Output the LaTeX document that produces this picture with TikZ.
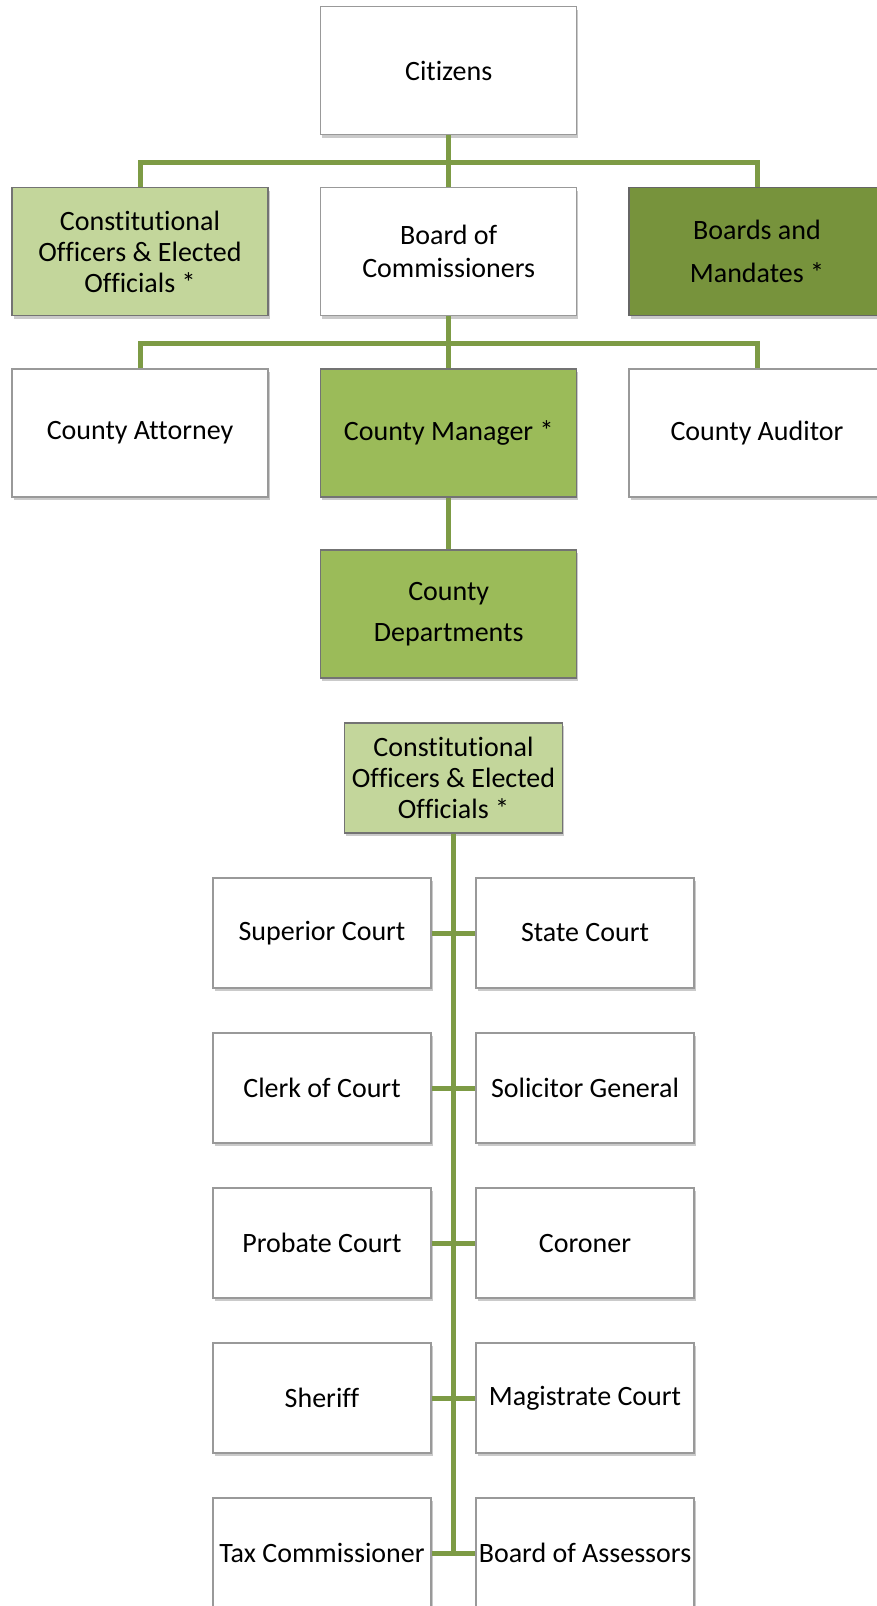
\documentclass[tikz,border=0pt]{standalone}
\usepackage{fontspec}
\setmainfont{Carlito}[Ligatures=NoCommon]
\usetikzlibrary{shadows}

\definecolor{paleolive}{HTML}{C3D69B}
\definecolor{midolive}{HTML}{9BBB59}
\definecolor{darkolive}{HTML}{77933C}
\definecolor{linkolive}{HTML}{7D9B45}

\tikzset{
	orgbox/.style={draw=black!40, line width=1.2pt, fill=white, align=center,
		minimum width=256pt, minimum height=128pt, inner sep=2pt,
		font=\fontsize{28}{31}\selectfont,
		drop shadow={shadow xshift=1.5pt, shadow yshift=-3pt, opacity=0.35, fill=black!60}},
	smallbox/.style={orgbox, minimum width=218pt, minimum height=110pt},
	palebox/.style={fill=paleolive, draw=black!55},
	midbox/.style={fill=midolive, draw=black!55},
	darkbox/.style={fill=darkolive, draw=black!60},
	link/.style={draw=linkolive, line width=5pt}
}

\begin{document}
\begin{tikzpicture}[x=1pt, y=1pt]
		\useasboundingbox (0,0) rectangle (876,-1606);

		% upper chart
		\node[orgbox] (cit) at (448.7, -70.5) {Citizens};
		\node[orgbox, palebox] (coe) at (140, -251.5) {Constitutional\\Officers \& Elected\\Officials *};
		\node[orgbox, font=\fontsize{28}{33}\selectfont] (boc) at (448.7, -251.5) {Board of\\Commissioners};
		\node[orgbox, darkbox, font=\fontsize{28}{43}\selectfont] (bam) at (757, -251.5) {Boards and\\Mandates *};
		\node[orgbox] (att) at (140, -433) {County Attorney};
		\node[orgbox, midbox] (mgr) at (448.7, -433) {County Manager *};
		\node[orgbox] (aud) at (757, -433) {County Auditor};
		\node[orgbox, midbox, font=\fontsize{28}{41}\selectfont] (dep) at (448.7, -614) {County\\Departments};

		\coordinate (bus1) at (448.7, -162);
		\coordinate (bus2) at (448.7, -343);

		\draw[link] (cit.south) -- (boc.north);
		\draw[link] (coe.north) |- (bus1) -| (bam.north);
		\draw[link] (boc.south) -- (mgr.north);
		\draw[link] (att.north) |- (bus2) -| (aud.north);
		\draw[link] (mgr.south) -- (dep.north);

		% lower chart
		\node[smallbox, palebox] (off) at (453.5, -778) {Constitutional\\Officers \& Elected\\Officials *};
		\node[smallbox] (sup) at (322, -933) {Superior Court};
		\node[smallbox] (sta) at (585, -933) {State Court};
		\node[smallbox] (clk) at (322, -1088) {Clerk of Court};
		\node[smallbox] (sol) at (585, -1088) {Solicitor General};
		\node[smallbox] (pro) at (322, -1243) {Probate Court};
		\node[smallbox] (cor) at (585, -1243) {Coroner};
		\node[smallbox] (she) at (322, -1398) {Sheriff};
		\node[smallbox] (mag) at (585, -1398) {Magistrate Court};
		\node[smallbox] (tax) at (322, -1553) {Tax Commissioner};
		\node[smallbox] (ass) at (585, -1553) {Board of Assessors};

		\coordinate (trunk) at (off.south |- tax.east);
		\draw[link] (off.south) -- (trunk);
		\foreach \l/\r in {sup/sta, clk/sol, pro/cor, she/mag, tax/ass}
			\draw[link] (\l.east) -- (\r.west);
	\end{tikzpicture}
\end{document}
